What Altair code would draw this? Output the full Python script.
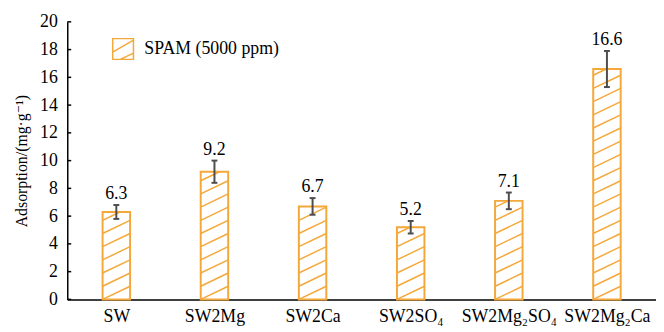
import math
import altair as alt
import pandas as pd

# ---- data ----
categories = ["SW", "SW2Mg", "SW2Ca", "SW2SO₄", "SW2Mg₂SO₄", "SW2Mg₂Ca"]
values = [6.3, 9.2, 6.7, 5.2, 7.1, 16.6]
errors = [0.5, 0.8, 0.6, 0.45, 0.6, 1.3]
y_ticks = [0, 2, 4, 6, 8, 10, 12, 14, 16, 18, 20]
series_name = "SPAM (5000 ppm)"
y_title = "Adsorption/(mg·g⁻¹)"

# ---- style ----
ORANGE = "#F5A83A"
GREY = "#4D4D4D"
FONT = "Times New Roman, Liberation Serif, DejaVu Serif, serif"
HALF = 0.14      # bar half width (x units)
CAP = 0.03       # error cap half width
SP = 0.95        # hatch spacing (y units)
RISE = 0.95      # hatch rise across bar
TICK = 0.04      # inward tick length (x units)

n = len(categories)
bars = pd.DataFrame({
    "idx": list(range(n)),
    "cat": categories,
    "value": values,
    "err": errors,
    "series": [series_name] * n,
})
bars["x0"] = bars["idx"] - HALF
bars["x1"] = bars["idx"] + HALF
bars["c0"] = bars["idx"] - CAP
bars["c1"] = bars["idx"] + CAP
bars["lo"] = bars["value"] - bars["err"]
bars["hi"] = bars["value"] + bars["err"]
bars["label"] = [f"{v:.1f}" for v in values]

rows = []
for i, v in zip(range(n), values):
    for k in range(-2, int(math.ceil(v / SP)) + 2):
        yl = k * SP
        t_lo = max(0.0, -yl / RISE)
        t_hi = min(1.0, (v - yl) / RISE)
        if t_hi > t_lo:
            rows.append({
                "hx0": i - HALF + 2 * HALF * t_lo,
                "hx1": i - HALF + 2 * HALF * t_hi,
                "hy0": yl + RISE * t_lo,
                "hy1": yl + RISE * t_hi,
            })
hatch = pd.DataFrame(rows)

ticks_df = pd.DataFrame({"t": y_ticks, "tx0": [-0.5] * len(y_ticks),
                         "tx1": [-0.5 + TICK] * len(y_ticks)})

xs = alt.Scale(domain=[-0.5, n - 0.5], nice=False, zero=False)
ys = alt.Scale(domain=[0, 20], nice=False)
label_expr = "[" + ",".join(f"'{c}'" for c in categories) + "][datum.value]"
xaxis = alt.Axis(title=None, values=list(range(n)), labelExpr=label_expr,
                 ticks=False, grid=False, labelPadding=8, labelFont=FONT,
                 labelFontSize=18, labelColor="black", domainColor="black",
                 domainWidth=1.5, labelAngle=0)
yaxis = alt.Axis(title=y_title, values=y_ticks, ticks=False, grid=False,
                 labelPadding=10, labelFont=FONT, labelFontSize=18,
                 labelColor="black", domainColor="black", domainWidth=1.5,
                 titleFont=FONT, titleFontSize=16, titleFontWeight="normal",
                 titleColor="black", titlePadding=10)


def X(f):
    return alt.X(f"{f}:Q", scale=xs, axis=xaxis)


def Y(f):
    return alt.Y(f"{f}:Q", scale=ys, axis=yaxis)


base = alt.Chart(bars)

fill_layer = base.mark_bar(fill="white", strokeWidth=0).encode(
    x=X("x0"), x2="x1", y=Y("value"), y2=alt.datum(0))

hatch_layer = alt.Chart(hatch).mark_rule(color=ORANGE, strokeWidth=1.5).encode(
    x=X("hx0"), x2="hx1", y=Y("hy0"), y2="hy1")

legend_path = "M-1,-1H1V1H-1Z M-1,0.3L1,-0.85 M-0.27,1L1,0.4"
outline_layer = base.mark_bar(fill="transparent", strokeWidth=2).encode(
    x=X("x0"), x2="x1", y=Y("value"), y2=alt.datum(0),
    stroke=alt.Stroke("series:N", scale=alt.Scale(range=[ORANGE]),
                      legend=alt.Legend(title=None, orient="none", legendX=45,
                                        legendY=16, symbolType=legend_path,
                                        symbolSize=441, symbolStrokeWidth=1.5,
                                        symbolFillColor="white",
                                        labelFont=FONT, labelFontSize=18,
                                        labelColor="black", labelOffset=10,
                                        padding=0)))

err_layer = base.mark_rule(color=GREY, strokeWidth=2).encode(
    x=X("idx"), y=Y("lo"), y2="hi")
cap_hi = base.mark_rule(color=GREY, strokeWidth=2).encode(
    x=X("c0"), x2="c1", y=Y("hi"))
cap_lo = base.mark_rule(color=GREY, strokeWidth=2).encode(
    x=X("c0"), x2="c1", y=Y("lo"))

text_layer = base.mark_text(font=FONT, fontSize=18, color="black",
                            baseline="alphabetic", dy=-6).encode(
    x=X("idx"), y=Y("hi"), text="label:N")

tick_layer = alt.Chart(ticks_df).mark_rule(color="black", strokeWidth=1.5).encode(
    x=X("tx0"), x2="tx1", y=Y("t"))

chart = alt.layer(fill_layer, hatch_layer, outline_layer, err_layer, cap_hi,
                  cap_lo, text_layer, tick_layer).properties(
    width=596, height=281,
    padding={"left": 60, "top": 12, "right": 0, "bottom": 31},
    autosize=alt.AutoSizeParams(type="none"),
).configure_view(stroke=None)

chart.save("out.html", embed_options={"renderer": "svg", "actions": False})
